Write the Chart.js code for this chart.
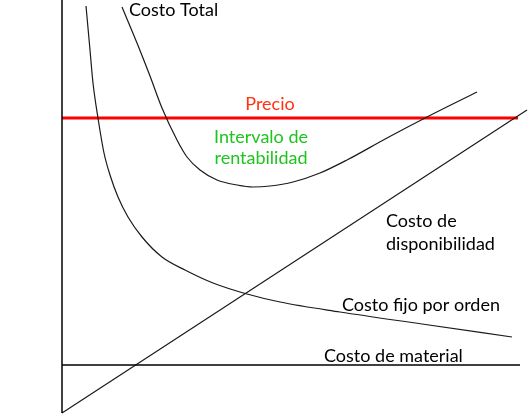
<!DOCTYPE html>
<html>
<head>
<meta charset="utf-8">
<script src="https://cdn.jsdelivr.net/npm/chart.js@4"></script>
<style>
html,body{margin:0;padding:0;background:#fff;}
#wrap{width:532px;height:415px;}
</style>
</head>
<body>
<div id="wrap"><canvas id="c" width="532" height="415"></canvas></div>
<script>
// Quantity (x) and cost (y) in chart units
const axisY = [{x:0,y:0},{x:0,y:413}];
const costoMaterial = [{x:0,y:48},{x:458,y:48}];
const precio = [{x:0,y:295},{x:456,y:295}];
const costoDisponibilidad = [{x:0,y:0},{x:465,y:303}];
const costoFijoX = [24,28,31,36,42,48,56,66,80,100,123,151,185,218,278,360,450];
const costoFijoY = [407,363,330,295,260,238,216,196,176,156,143,130,119,111,101,89,76];
const costoTotalX = [60,75,88,100,115,125,138,155,175,191,208,231,258,285,325,365,415];
const costoTotalY = [406,370,337,305,273,256,243,233,228,226,227,231,240,253,275,296,321];
const labels = [
  {text:'Costo Total', x:67, y:397, color:'#000000', align:'left'},
  {text:'Precio', x:208, y:303, color:'#ff3311', align:'center'},
  {text:'Intervalo de', x:199, y:270, color:'#1ec31e', align:'center'},
  {text:'rentabilidad', x:199, y:249, color:'#1ec31e', align:'center'},
  {text:'Costo de', x:324, y:186, color:'#000000', align:'left'},
  {text:'disponibilidad', x:324, y:163, color:'#000000', align:'left'},
  {text:'Costo fijo por orden', x:280, y:102, color:'#000000', align:'left'},
  {text:'Costo de material', x:262, y:51, color:'#000000', align:'left'}
];

const zip = (xs, ys) => xs.map((x,i)=>({x, y: ys[i]}));

const textPlugin = {
  id: 'textLabels',
  afterDatasetsDraw(chart) {
    const ctx = chart.ctx;
    const xs = chart.scales.x, ys = chart.scales.y;
    ctx.save();
    ctx.font = '18px Lato, "Open Sans", sans-serif';
    ctx.textBaseline = 'alphabetic';
    labels.forEach(l => {
      ctx.fillStyle = l.color;
      ctx.textAlign = l.align;
      ctx.fillText(l.text, xs.getPixelForValue(l.x), ys.getPixelForValue(l.y));
    });
    ctx.restore();
  }
};

const lineDs = (data, color, width, extra) => Object.assign({
  data, borderColor: color, borderWidth: width, showLine: true,
  pointRadius: 0, fill: false, tension: 0, clip: false
}, extra || {});

new Chart(document.getElementById('c'), {
  type: 'scatter',
  data: {
    datasets: [
      lineDs(axisY, '#000000', 1.5),
      lineDs(costoMaterial, '#000000', 1.5),
      lineDs(costoDisponibilidad, '#1a1a1a', 1.2),
      lineDs(zip(costoFijoX, costoFijoY), '#1a1a1a', 1.2, {cubicInterpolationMode:'monotone'}),
      lineDs(zip(costoTotalX, costoTotalY), '#1a1a1a', 1.2, {cubicInterpolationMode:'monotone'}),
      lineDs(precio, '#ff0000', 3)
    ]
  },
  options: {
    responsive: false,
    devicePixelRatio: 1,
    animation: false,
    layout: {padding: 0},
    plugins: {legend: {display:false}, tooltip: {enabled:false}},
    scales: {
      x: {type:'linear', min:-62, max:470, display:false},
      y: {type:'linear', min:-2, max:413, display:false}
    }
  },
  plugins: [textPlugin]
});
</script>
</body>
</html>
